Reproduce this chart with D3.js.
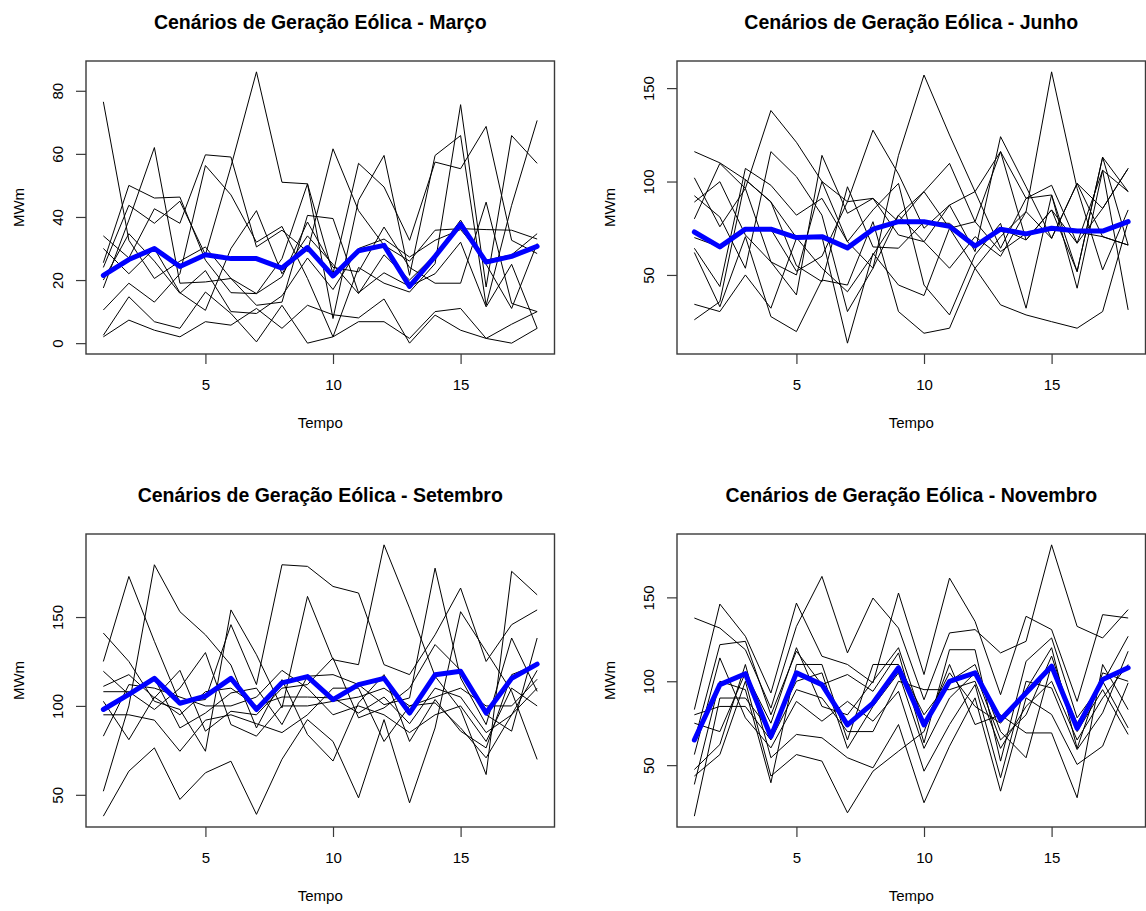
<!DOCTYPE html>
<html>
<head>
<meta charset="utf-8">
<script src="https://cdn.jsdelivr.net/npm/d3@7"></script>
<style>
  html, body { margin: 0; padding: 0; background: #fff; }
  svg { display: block; }
  text { font-family: "Liberation Sans", Arial, Helvetica, sans-serif; fill: #000; }
</style>
</head>
<body>
<svg id="chart" width="1146" height="911"></svg>
<script>
// Time steps (horizontal axis)
const tempo = [1, 2, 3, 4, 5, 6, 7, 8, 9, 10, 11, 12, 13, 14, 15, 16, 17, 18];
const xTicks = [5, 10, 15];

// Março — wind generation scenarios (MWm) and their mean
const cenariosMarco = [
  [76.5, 32.6, 20.5, 26, 30.5, 20.5, 15.7, 21, 38.4, 24, 22.6, 36.8, 24, 19, 19, 44.7, 12.6, 10],
  [17.5, 39, 62, 19, 19.4, 20.5, 12, 13, 40.5, 39.5, 16, 22.3, 18, 22, 32, 11.5, 25, 4.7],
  [25.5, 50, 46, 46.3, 26.3, 16, 15.7, 26.8, 50.5, 7.8, 45.3, 59.5, 21.5, 59.5, 65.8, 12, 43.7, 70.6],
  [34, 27, 42.6, 38, 59.7, 59, 30.5, 35.8, 29, 61.6, 42, 31, 26, 35.8, 36.3, 36, 35.8, 33],
  [24, 43.7, 38, 45, 28, 56, 86, 51, 50.5, 22, 57, 49.5, 32.6, 57.4, 55.3, 68.7, 32.6, 28.4],
  [10.5, 19, 13, 22, 56.3, 47, 32, 37, 20.5, 2, 24, 19, 16.2, 25.2, 75.6, 17.8, 65.8, 57],
  [2.5, 14.7, 6.8, 4.7, 16.2, 9.4, 0.4, 12, 0, 2, 6.8, 6.8, 1.5, 10, 11, 1.5, 6, 10],
  [2, 7.3, 4.1, 2, 6.8, 5.7, 11, 4.7, 12, 9, 8, 14, 0, 8.9, 4.1, 1.5, 0, 4.7],
  [30, 22, 30, 16, 10.4, 30, 42, 22, 34, 25, 15.7, 28, 20, 28, 39, 25, 11, 31.6],
  [20, 34.7, 26, 15.8, 23, 10, 9.4, 15, 27, 17, 30, 33, 27.3, 32.6, 36, 26.3, 28, 34.7]
];
const mediaMarco = [21.5, 26.5, 30, 24.3, 28, 26.8, 26.8, 23.8, 30.3, 21.3, 29.3, 31, 18, 27.5, 37.7, 25.7, 27.5, 30.7];
const yTicksMarco = [0, 20, 40, 60, 80];

// Junho
const cenariosJunho = [
  [116, 110, 101, 89, 70, 53.6, 41, 60.7, 82, 94.6, 109.7, 78.5, 116, 68.7, 84.8, 51.8, 113, 94.6],
  [102, 75.8, 96.3, 138, 121, 100, 89.2, 127.5, 104, 75, 87.4, 62.5, 124, 97.2, 69.6, 99, 70.5, 66],
  [92.4, 81, 53.6, 116, 102.6, 82, 30.4, 53.6, 114, 157, 124.9, 94.6, 64.3, 91, 98, 67, 85.6, 107],
  [89, 99.9, 71.4, 57, 39.3, 114, 83, 91, 71.4, 67.8, 53.6, 70.5, 60, 83.9, 158.7, 96.3, 52.7, 84.8],
  [64.3, 43.8, 107, 98, 82, 91, 67.8, 84.8, 99, 44.6, 28.6, 60.7, 77.6, 32.2, 92.8, 42.9, 106, 31.3],
  [62, 33, 70.5, 27.7, 19.7, 47.3, 44.6, 78.5, 30.4, 18.8, 21.5, 53.6, 34, 28.6, 25, 21.5, 30.4, 78.5],
  [34.3, 30.4, 50, 32.2, 69.6, 70.5, 13.5, 61.6, 44.6, 39, 75, 78.5, 62.5, 72.3, 75, 73, 70.5, 66],
  [26, 35.7, 101, 89.2, 55, 46.4, 97.2, 65, 64.3, 78.5, 77.6, 66, 75, 68.7, 84.8, 67, 106, 94.6],
  [70, 65, 75, 74.5, 52, 60, 89.2, 91, 78.5, 94.6, 75, 53.6, 70.5, 83.9, 69.6, 99, 85.6, 107],
  [80, 109.7, 96.3, 57, 50, 100, 67.8, 53.6, 82, 67.8, 87.4, 94.6, 116, 91, 92.8, 51.8, 113, 66]
];
const mediaJunho = [73, 65, 74.5, 74.5, 70, 70.5, 64.5, 74.5, 78.5, 78.5, 76, 65.5, 74.5, 72, 75, 73.5, 73.5, 78.5];
const yTicksJunho = [50, 100, 150];

// Setembro
const cenariosSetembro = [
  [38, 63.3, 76.4, 47.4, 62.4, 68.9, 39, 70, 92.3, 80, 48.3, 92.3, 45.5, 87.6, 153, 130.7, 108.2, 69.9],
  [52, 100, 179.4, 153, 140, 123, 87.6, 114.8, 83.9, 69, 101.7, 117.6, 80, 103.6, 85.8, 76.4, 117.6, 123.2],
  [141, 125, 102.6, 98, 74.5, 154, 128.8, 98.9, 161.6, 126, 123.2, 190.6, 155, 116.7, 98, 61.4, 175.7, 162.5],
  [125, 172.8, 136.3, 101.7, 103.6, 145.7, 112, 179.4, 178.5, 167.2, 163.5, 123.2, 117.6, 140, 166.3, 125, 145.7, 154],
  [119.5, 106.4, 115.7, 87.6, 96, 107.3, 110, 89.5, 116.7, 117.6, 112, 100.7, 104.5, 177.5, 115.7, 89.5, 138.2, 108.2],
  [111, 117.6, 104.5, 120, 85.8, 97, 95, 110, 112, 127, 93.3, 98.9, 110, 134.5, 120, 95, 85.8, 138.2],
  [108, 108, 98, 110, 130, 89.5, 83, 100, 100, 102.6, 105, 110, 100, 105, 110, 100, 100, 115],
  [102.6, 81, 105, 95, 108, 110, 100, 105, 105, 104.5, 96, 105, 90, 110, 105, 85, 95, 110],
  [83, 112, 110, 105, 100, 100, 105, 120, 110, 95, 100, 95, 85, 95, 100, 80, 110, 100],
  [95, 95, 92, 74.5, 92, 95, 90, 85, 95, 110, 110, 80, 100, 101.7, 87.6, 70.8, 95, 120]
];
const mediaSetembro = [98, 106.5, 115.5, 101.5, 105.5, 115.5, 98, 113, 116.5, 103.5, 112, 115.5, 96, 117.5, 119.5, 96, 115.5, 123.5];
const yTicksSetembro = [50, 100, 150];

// Novembro
const cenariosNovembro = [
  [137.7, 131.7, 118.8, 84, 132.7, 162.5, 116.9, 149.6, 131.7, 89, 128.8, 130.8, 116.9, 123.8, 181.3, 132.7, 125.8, 142.7],
  [83.1, 146, 126.8, 93, 146.6, 114.9, 110, 99, 152.6, 104, 161.5, 135.7, 92, 138.7, 130.8, 88, 139.7, 137.7],
  [64.3, 121.8, 123.8, 80, 117.9, 98, 104, 94, 116.9, 63.3, 118.8, 118.8, 52.4, 111.9, 125.8, 78.2, 99, 126.8],
  [56.3, 113.9, 78.2, 60.3, 88, 76.2, 88, 76.2, 94, 46.4, 74.2, 98, 42.5, 100, 96, 59.3, 81.2, 117.9],
  [47.4, 62.3, 110, 54.4, 68.3, 66.3, 54.4, 48.4, 74.2, 27.6, 61.3, 90.1, 34.5, 90.1, 80.2, 50.4, 61.3, 99],
  [43.5, 56.3, 100, 43.5, 56.3, 52.4, 21.6, 46.4, 58.3, 70, 110, 74.2, 80, 69.2, 69.2, 30.6, 110, 83.1],
  [38.5, 100, 95, 39.5, 110, 110, 65, 110, 110, 80, 100, 110, 70, 54.4, 110, 75, 100, 72.2],
  [19.6, 90, 90, 70, 100, 105, 60, 85, 105, 60, 90, 105, 65, 80, 115, 70, 95, 68.3],
  [80, 85, 85, 65, 95, 90, 70, 70, 100, 95, 95, 100, 60, 85, 100, 65, 90, 110],
  [75, 70, 105, 75, 120, 85, 80, 100, 120, 75, 105, 85, 75, 95, 120, 60, 105, 100]
];
const mediaNovembro = [65, 98, 104.5, 67, 105, 98, 74, 87, 108, 74, 100, 105, 77, 93, 109, 72, 101, 108];
const yTicksNovembro = [50, 100, 150];

const paineis = [
  { titulo: "Cenários de Geração Eólica - Março", cenarios: cenariosMarco, media: mediaMarco, yTicks: yTicksMarco, col: 0, row: 0 },
  { titulo: "Cenários de Geração Eólica - Junho", cenarios: cenariosJunho, media: mediaJunho, yTicks: yTicksJunho, col: 1, row: 0 },
  { titulo: "Cenários de Geração Eólica - Setembro", cenarios: cenariosSetembro, media: mediaSetembro, yTicks: yTicksSetembro, col: 0, row: 1 },
  { titulo: "Cenários de Geração Eólica - Novembro", cenarios: cenariosNovembro, media: mediaNovembro, yTicks: yTicksNovembro, col: 1, row: 1 }
];

// Plot-region geometry
const boxW = 468.5, boxH = 293;
const colLeft = [86, 677];
const rowTop = [61, 534];
const tickLen = 10;

const svg = d3.select("#chart");
svg.append("rect").attr("width", 1146).attr("height", 911).attr("fill", "#fff");

// Range extended by 4% on each side, like base R plotting defaults
function extendido(lo, hi) {
  const r = hi - lo;
  return [lo - 0.04 * r, hi + 0.04 * r];
}

paineis.forEach(p => {
  const left = colLeft[p.col], top = rowTop[p.row];
  const g = svg.append("g").attr("transform", `translate(${left},${top})`);

  const x = d3.scaleLinear()
    .domain(extendido(d3.min(tempo), d3.max(tempo)))
    .range([0, boxW]);

  const todos = p.cenarios.flat().concat(p.media);
  const y = d3.scaleLinear()
    .domain(extendido(d3.min(todos), d3.max(todos)))
    .range([boxH, 0]);

  const linha = d3.line()
    .x((d, i) => x(tempo[i]))
    .y(d => y(d));

  // Scenario lines
  g.append("g")
    .selectAll("path")
    .data(p.cenarios)
    .join("path")
    .attr("d", linha)
    .attr("fill", "none")
    .attr("stroke", "#000")
    .attr("stroke-width", 1)
    .attr("stroke-linejoin", "miter");

  // Mean line
  g.append("path")
    .datum(p.media)
    .attr("d", linha)
    .attr("fill", "none")
    .attr("stroke", "#0000ff")
    .attr("stroke-width", 5)
    .attr("stroke-linejoin", "round")
    .attr("stroke-linecap", "round");

  // Box
  g.append("rect")
    .attr("x", 0).attr("y", 0)
    .attr("width", boxW).attr("height", boxH)
    .attr("fill", "none")
    .attr("stroke", "#3a3a3a")
    .attr("stroke-width", 1.4);

  // Bottom axis
  const ax = g.append("g").attr("transform", `translate(0,${boxH})`)
    .call(d3.axisBottom(x).tickValues(xTicks).tickSize(tickLen).tickPadding(12).tickFormat(d3.format("d")));
  ax.select(".domain").remove();
  ax.selectAll(".tick line").attr("stroke", "#3a3a3a").attr("stroke-width", 1.2);
  ax.selectAll(".tick text")
    .attr("y", null).attr("dy", null)
    .attr("transform", "translate(0,35.5)")
    .style("font-size", "15px")
    .style("font-family", "\"Liberation Sans\", Arial, sans-serif");

  // Left axis (labels drawn parallel to the axis)
  const ay = g.append("g")
    .call(d3.axisLeft(y).tickValues(p.yTicks).tickSize(tickLen).tickFormat(d3.format("d")));
  ay.select(".domain").remove();
  ay.selectAll(".tick line").attr("stroke", "#3a3a3a").attr("stroke-width", 1.2);
  ay.selectAll(".tick text")
    .attr("x", null).attr("dy", null)
    .attr("text-anchor", "middle")
    .attr("transform", "translate(-23,0) rotate(-90)")
    .style("font-size", "15px")
    .style("font-family", "\"Liberation Sans\", Arial, sans-serif");

  // Title
  g.append("text")
    .attr("x", boxW / 2).attr("y", -32)
    .attr("text-anchor", "middle")
    .style("font-size", "19.5px")
    .style("font-weight", "bold")
    .text(p.titulo);

  // Axis titles
  g.append("text")
    .attr("x", boxW / 2).attr("y", boxH + 74)
    .attr("text-anchor", "middle")
    .style("font-size", "15px")
    .text("Tempo");

  g.append("text")
    .attr("transform", `translate(-62,${boxH / 2}) rotate(-90)`)
    .attr("text-anchor", "middle")
    .style("font-size", "15px")
    .text("MWm");
});
</script>
</body>
</html>
